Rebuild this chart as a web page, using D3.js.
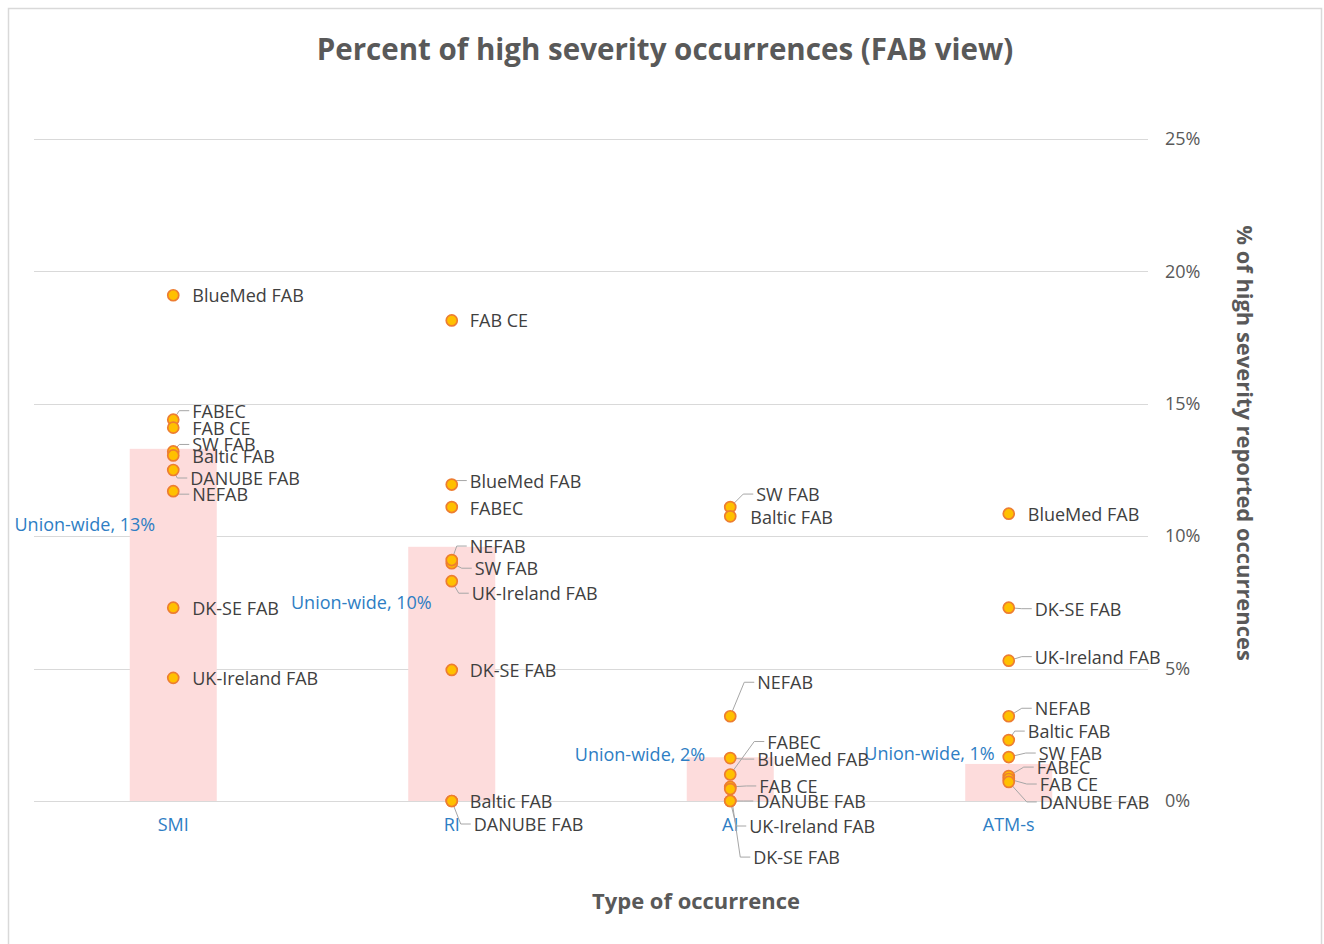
<!DOCTYPE html>
<html>
<head>
<meta charset="utf-8">
<script src="https://cdn.jsdelivr.net/npm/d3@7"></script>
<style>
  html, body { margin: 0; padding: 0; background: #fff; }
  svg { display: block; font-family: "Open Sans", sans-serif; }
</style>
</head>
<body>
<svg id="chart" width="1324" height="944"></svg>
<script>
// ---- data ----
const categories = ["SMI", "RI", "AI", "ATM-s"];
const unionWide = [13.3, 9.6, 1.65, 1.4];
const unionLabels = ["Union-wide, 13%", "Union-wide, 10%", "Union-wide, 2%", "Union-wide, 1%"];
const fabs = ["BlueMed FAB", "FABEC", "FAB CE", "SW FAB", "Baltic FAB", "DANUBE FAB", "NEFAB", "DK-SE FAB", "UK-Ireland FAB"];
const smiValues = [19.1, 14.4, 14.1, 13.2, 13.05, 12.5, 11.7, 7.3, 4.65];
const riValues  = [11.95, 11.1, 18.15, 8.98, 0, 0, 9.1, 4.95, 8.3];
const aiValues  = [1.62, 1.0, 0.53, 11.1, 10.75, 0, 3.2, 0.45, 0];
const atmValues = [10.85, 0.94, 0.83, 1.66, 2.3, 0.72, 3.2, 7.3, 5.3];
const yTicks = [0, 5, 10, 15, 20, 25];
const title = "Percent of high severity occurrences (FAB view)";
const xTitle = "Type of occurrence";
const yTitle = "% of high severity reported occurrences";

// ---- layout (label placement offsets, px) ----
const labelOffsets = [
  // SMI
  [[19,0],[19,-9],[19,0],[19,-7],[19,1],[17,8],[19,3],[19,0],[19,0]],
  // RI
  [[18,-4],[18,1],[18,0],[23,5],[18,0],[22,23],[18,-14],[18,0],[20,12]],
  // AI
  [[27,1],[37,-33],[29,-1],[26,-13],[20,1],[26,0],[27,-34],[23,68],[19,25]],
  // ATM-s
  [[19,0],[28,-9],[31,5],[30,-4],[19,-9],[31,20],[26,-8],[26,1],[26,-4]]
];
const unionLabelOffsets = [[-18, 75], [-20, 55], [-25, -3], [-14, -11]];

const seriesValues = [smiValues, riValues, aiValues, atmValues];

const svg = d3.select("#chart");
const plot = { left: 34, right: 1148, top: 139, bottom: 801 };
const FS = 18;

svg.append("rect").attr("x", 8.5).attr("y", 8.5).attr("width", 1313).attr("height", 960)
  .attr("fill", "#fff").attr("stroke", "#D9D9D9").attr("stroke-width", 1.5);

const x = d3.scaleBand().domain(categories).range([plot.left, plot.right]).paddingInner(0).paddingOuter(0);
const y = d3.scaleLinear().domain([0, 25]).range([plot.bottom, plot.top]);

// gridlines
svg.append("g").selectAll("line").data(yTicks).join("line")
  .attr("x1", plot.left).attr("x2", plot.right)
  .attr("y1", d => Math.round(y(d)) + 0.5).attr("y2", d => Math.round(y(d)) + 0.5)
  .attr("stroke", "#D9D9D9").attr("stroke-width", 1);

// right axis labels
const yAxis = d3.axisRight(y).tickValues(yTicks).tickFormat(d => d + "%").tickSize(0).tickPadding(0);
const yg = svg.append("g").attr("transform", `translate(${plot.right + 17},0)`).call(yAxis);
yg.select(".domain").remove();
yg.selectAll("text").attr("font-size", FS).attr("fill", "#595959").attr("font-family", "Open Sans");

// bars (union-wide)
const barW = 87;
svg.append("g").selectAll("rect").data(categories).join("rect")
  .attr("x", d => x(d) + x.bandwidth() / 2 - barW / 2)
  .attr("width", barW)
  .attr("y", (d, i) => y(unionWide[i]))
  .attr("height", (d, i) => y(0) - y(unionWide[i]))
  .attr("fill", "#FDDCDC");

// union-wide labels
svg.append("g").selectAll("text").data(categories).join("text")
  .attr("x", (d, i) => x(d) + x.bandwidth() / 2 + unionLabelOffsets[i][0])
  .attr("y", (d, i) => y(unionWide[i]) + unionLabelOffsets[i][1])
  .attr("text-anchor", "end").attr("dominant-baseline", "central")
  .attr("font-size", FS).attr("fill", "#2E7EC4")
  .text((d, i) => unionLabels[i]);

// x category labels
const xAxis = d3.axisBottom(x).tickSize(0).tickPadding(0);
const xg = svg.append("g").attr("transform", `translate(0,${plot.bottom + 17})`).call(xAxis);
xg.select(".domain").remove();
xg.selectAll("text").attr("font-size", FS).attr("fill", "#2E7EC4").attr("font-family", "Open Sans");

// points
const pts = [];
categories.forEach((c, ci) => {
  fabs.forEach((f, fi) => {
    pts.push({ c, ci, f, fi, v: seriesValues[ci][fi] });
  });
});

const leaders = svg.append("g");
const ptG = svg.append("g");
const lblG = svg.append("g");

pts.forEach(p => {
  const cx = x(p.c) + x.bandwidth() / 2;
  const cy = y(p.v);
  const [dx, dy] = labelOffsets[p.ci][p.fi];
  const lx = cx + dx, ly = cy + dy;
  if (Math.abs(dy) > 2 || dx > 22) {
    leaders.append("polyline")
      .attr("points", `${cx},${cy} ${lx - 13},${ly} ${lx - 3},${ly}`)
      .attr("fill", "none").attr("stroke", "#A6A6A6").attr("stroke-width", 1);
  }
  lblG.append("text").attr("x", lx).attr("y", ly)
    .attr("dominant-baseline", "central").attr("font-size", FS)
    .attr("fill", "#404040").text(p.f);
});

ptG.selectAll("circle").data(pts).join("circle")
  .attr("cx", d => x(d.c) + x.bandwidth() / 2)
  .attr("cy", d => y(d.v))
  .attr("r", 5.5)
  .attr("fill", "#FFC000").attr("stroke", "#ED7D31").attr("stroke-width", 1.7);

// titles
function fit(sel, target) {
  const w = sel.node().getComputedTextLength();
  const fs = parseFloat(sel.attr("font-size"));
  sel.attr("font-size", fs * target / w);
}
const t = svg.append("text").attr("x", 665).attr("y", 48).attr("text-anchor", "middle")
  .attr("dominant-baseline", "central").attr("font-size", 26).attr("font-weight", "bold")
  .attr("fill", "#595959").text(title);
fit(t, 697);

const xt = svg.append("text").attr("x", 696).attr("y", 900).attr("text-anchor", "middle")
  .attr("dominant-baseline", "central").attr("font-size", 20).attr("font-weight", "bold")
  .attr("fill", "#595959").text(xTitle);
fit(xt, 208);

const yt = svg.append("text").attr("transform", "translate(1245,443) rotate(90)")
  .attr("text-anchor", "middle").attr("dominant-baseline", "central")
  .attr("font-size", 20).attr("font-weight", "bold").attr("fill", "#595959").text(yTitle);
fit(yt, 436);
</script>
</body>
</html>
